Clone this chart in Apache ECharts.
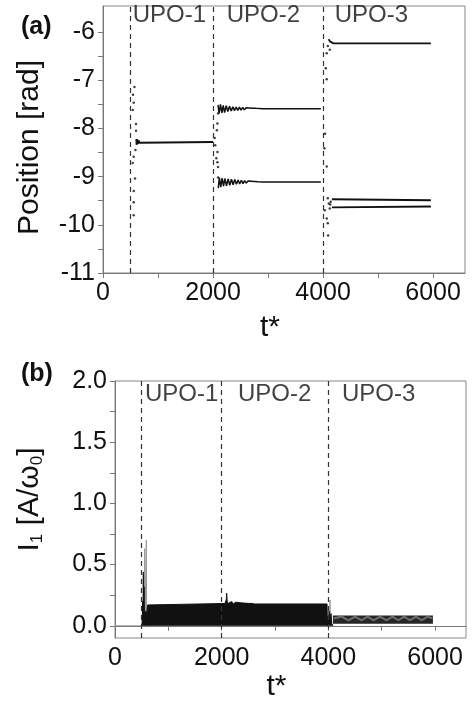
<!DOCTYPE html>
<html>
<head>
<meta charset="utf-8">
<script src="https://cdn.jsdelivr.net/npm/echarts@6/dist/echarts.min.js"></script>
<style>
  html, body { margin: 0; padding: 0; background: #fff; }
  #chart { width: 473px; height: 704px; }
</style>
</head>
<body>
<div id="chart"></div>
<script>
  // tick values
  const tTicks = [0, 1000, 2000, 3000, 4000, 5000, 6000];
  const tLabels = [0, 2000, 4000, 6000];
  const posTicks = [-11, -10.5, -10, -9.5, -9, -8.5, -8, -7.5, -7, -6.5, -6];
  const posLabels = [-11, -10, -9, -8, -7, -6];
  const i1Ticks = [0, 0.25, 0.5, 0.75, 1, 1.25, 1.5, 1.75, 2];
  const i1Labels = [0, 0.5, 1, 1.5, 2];

  const upoNames = ['UPO-1', 'UPO-2', 'UPO-3'];
  const dividers = [495, 2000, 3995];

  // (a) position, rad
  const posUpo1 = [[607, -8.22], [612, -8.34], [621, -8.23], [632, -8.32], [646, -8.25], [662, -8.30], [690, -8.28], [2000, -8.28]];
  const posUpo2a = [[2090, -7.51], [2110, -7.69], [2135, -7.50], [2160, -7.68], [2185, -7.52], [2210, -7.67], [2240, -7.53],
    [2270, -7.65], [2300, -7.54], [2330, -7.64], [2360, -7.55], [2390, -7.63], [2420, -7.555], [2450, -7.625], [2480, -7.56],
    [2510, -7.62], [2540, -7.565], [2570, -7.615], [2600, -7.57], [2630, -7.61], [2660, -7.575], [2690, -7.605],
    [2720, -7.58], [2750, -7.60], [2780, -7.584], [2810, -7.597], [2840, -7.587], [2870, -7.594], [2900, -7.59], [3960, -7.59]];
  const posUpo2b = [[2095, -9.24], [2115, -9.02], [2140, -9.22], [2165, -9.03], [2190, -9.20], [2215, -9.04], [2245, -9.19],
    [2275, -9.05], [2305, -9.18], [2335, -9.055], [2365, -9.17], [2395, -9.06], [2425, -9.16], [2455, -9.07], [2485, -9.15],
    [2515, -9.075], [2545, -9.145], [2575, -9.085], [2605, -9.135], [2635, -9.09], [2665, -9.13], [2695, -9.095],
    [2725, -9.125], [2755, -9.10], [2785, -9.12], [2815, -9.105], [2845, -9.115], [2900, -9.11], [3960, -9.11]];
  const posUpo3a = [[4100, -6.15], [4130, -6.20], [4190, -6.235], [5960, -6.235]];
  const posUpo3b = [[4160, -9.47], [4190, -9.49], [5960, -9.49]];
  const posUpo3c = [[4160, -9.64], [4190, -9.62], [5960, -9.62]];
  const posDots = [
    [571, -7.14], [558, -7.47], [540, -7.62], [600, -7.91], [600, -8.05], [558, -8.59], [540, -8.72], [582, -9.04],
    [558, -9.53], [558, -9.80], [545, -7.30], [590, -8.45], [560, -9.30],
    [2030, -8.20], [2040, -8.35], [2080, -7.90], [2091, -7.69], [2070, -8.04], [2080, -8.49], [2080, -8.70],
    [2091, -8.80], [2091, -9.02], [2060, -8.62],
    [4086, -6.29], [4067, -6.44], [4049, -6.75], [4067, -6.98], [4122, -6.37], [4036, -8.11], [4025, -8.41],
    [4067, -8.79], [4031, -9.70], [4067, -9.87], [4086, -9.97], [4091, -10.22], [4086, -9.45], [4104, -9.56],
    [4122, -9.66], [4140, -9.52], [4130, -9.58]
  ];

  // (b) I1, A/omega0
  const i1Zero = [[0, 0], [505, 0]];
  const i1Gray = [[550, 0], [556, 0.63], [562, 0.02], [581, 0.02], [587, 0.70], [593, 0.02], [4026, 0.02], [4031, 0.21], [4036, 0.02]];
  const i1Main = [[505, 0], [512, 0.06], [518, 0.20], [524, 0.04], [531, 0.44], [537, 0.06], [544, 0.32], [551, 0.07],
    [566, 0.12], [590, 0.09], [612, 0.17], [625, 0.182], [2060, 0.182], [2085, 0.21], [2094, 0.266], [2103, 0.20],
    [2120, 0.182], [2150, 0.18], [2188, 0.198], [2215, 0.178], [2263, 0.193], [2290, 0.178], [2344, 0.188], [2370, 0.178],
    [2425, 0.185], [2450, 0.178], [2500, 0.183], [2530, 0.178], [2582, 0.182], [2620, 0.178], [3975, 0.178],
    [3982, 0.0], [3992, 0.08], [4002, 0.02], [4014, 0.12], [4024, 0.03], [4040, 0.04], [4050, 0.10], [4062, 0.02], [4085, 0.0]];
  const i1Band = [[4085, 0.016], [5960, 0.084]];
  const i1Ripple = [[4100, 0.06], [4250, 0.075], [4375, 0.045], [4500, 0.075], [4625, 0.045], [4735, 0.075], [4844, 0.045],
    [4970, 0.075], [5094, 0.045], [5200, 0.075], [5313, 0.045], [5420, 0.075], [5531, 0.045], [5640, 0.075], [5750, 0.045],
    [5860, 0.075], [5950, 0.06]];

  const font = "'Liberation Sans', Arial, sans-serif";
  const axisGray = '#777';

  function tAxis(gridIndex, gap) {
    return {
      type: 'value', gridIndex: gridIndex, min: 0, max: 6580,
      name: 't*', nameLocation: 'middle', nameGap: gap,
      nameTextStyle: {fontSize: 30, color: '#111', fontFamily: font, padding: [0, 28, 0, 0]},
      axisLine: {lineStyle: {color: axisGray}},
      axisTick: {customValues: tTicks, length: 5, lineStyle: {color: axisGray}},
      axisLabel: {
        customValues: tLabels, fontSize: 25, color: '#111', fontFamily: font, margin: 8,
        formatter: function (v) { return String(v); }
      },
      splitLine: {show: false}
    };
  }

  function line(name, data, xi, color, width) {
    return {
      name: name, type: 'line', xAxisIndex: xi, yAxisIndex: xi, data: data,
      showSymbol: false, symbol: 'none', silent: true, animation: false,
      lineStyle: {color: color, width: width}
    };
  }

  function dividerLines() {
    return {
      symbol: 'none', silent: true, animation: false, label: {show: false},
      lineStyle: {type: [5, 4], color: '#333', width: 1.2},
      data: dividers.map(function (x) { return {xAxis: x}; })
    };
  }

  function upoLabels(xi, xs, y) {
    return {
      type: 'scatter', xAxisIndex: xi, yAxisIndex: xi, symbolSize: 0, silent: true, animation: false,
      data: upoNames.map(function (n, k) { return [xs[k], y, n]; }),
      label: {
        show: true, position: 'right', distance: 0, fontSize: 24, color: '#111', fontFamily: font,
        formatter: function (p) { return p.data[2]; }
      }
    };
  }

  let chart = echarts.init(document.getElementById('chart'));

  let zeroSeries = line('zero', i1Zero, 1, '#999', 1);
  zeroSeries.markLine = dividerLines();
  zeroSeries.z = 4;
  let upo1Series = line('upo1', posUpo1, 0, '#111', 2);
  upo1Series.markLine = dividerLines();

  let graySeries = line('gray', i1Gray, 1, '#999', 1);
  graySeries.areaStyle = {color: '#aaa', opacity: 1};
  graySeries.z = 1;
  let mainSeries = line('main', i1Main, 1, '#111', 1);
  mainSeries.areaStyle = {color: '#111', opacity: 1};
  mainSeries.z = 2;
  // post-4000 band as a rectangle in data coordinates
  mainSeries.markArea = {
    silent: true, animation: false,
    itemStyle: {color: '#262626', opacity: 1},
    data: [[{coord: i1Band[0]}, {coord: i1Band[1]}]]
  };
  let rippleSeries = line('ripple', i1Ripple, 1, '#6e6e6e', 2);
  rippleSeries.z = 3;

  chart.setOption({
    animation: false,
    backgroundColor: '#fff',
    title: [
      {text: '(a)', left: 16, top: 10, textStyle: {fontSize: 25, fontWeight: 'bold', color: '#111', fontFamily: font}},
      {text: '(b)', left: 16, top: 357, textStyle: {fontSize: 25, fontWeight: 'bold', color: '#111', fontFamily: font}}
    ],
    grid: [
      {left: 103, top: 6, right: 8, height: 267, show: true, borderColor: '#888', borderWidth: 1, backgroundColor: 'transparent'},
      {left: 115, top: 381, right: 7, height: 257, show: true, borderColor: '#888', borderWidth: 1, backgroundColor: 'transparent'}
    ],
    xAxis: [tAxis(0, 40), tAxis(1, 34)],
    yAxis: [
      {
        type: 'value', gridIndex: 0, min: -11, max: -5.46,
        name: 'Position [rad]', nameLocation: 'middle', nameGap: 58,
        nameTextStyle: {fontSize: 30, color: '#111', fontFamily: font, padding: [0, 16, 0, 0]},
        axisLine: {lineStyle: {color: axisGray}},
        axisTick: {customValues: posTicks, length: 5, lineStyle: {color: axisGray}},
        axisLabel: {customValues: posLabels, fontSize: 25, color: '#111', fontFamily: font, margin: 8},
        splitLine: {show: false}
      },
      {
        type: 'value', gridIndex: 1, min: -0.1, max: 2.0,
        name: '{i|I}{s|1}{i| [A/ω}{s|0}{i|]}', nameLocation: 'middle', nameGap: 68,
        nameTextStyle: {
          fontSize: 30, color: '#111', fontFamily: font, padding: [0, 0, 0, 20],
          rich: {
            i: {fontSize: 30, color: '#111', fontFamily: font, lineHeight: 34},
            s: {fontSize: 17, color: '#111', fontFamily: font, padding: [14, 0, 0, 0]}
          }
        },
        axisLine: {lineStyle: {color: axisGray}},
        axisTick: {customValues: i1Ticks, length: 5, lineStyle: {color: axisGray}},
        axisLabel: {
          customValues: i1Labels, fontSize: 25, color: '#111', fontFamily: font, margin: 8,
          formatter: function (v) { return v.toFixed(1); }
        },
        splitLine: {show: false}
      }
    ],
    series: [
      upo1Series,
      line('upo2a', posUpo2a, 0, '#111', 1.5),
      line('upo2b', posUpo2b, 0, '#111', 1.5),
      line('upo3a', posUpo3a, 0, '#111', 1.8),
      line('upo3b', posUpo3b, 0, '#111', 1.8),
      line('upo3c', posUpo3c, 0, '#111', 1.8),
      {
        type: 'scatter', xAxisIndex: 0, yAxisIndex: 0, data: posDots, symbolSize: 2.5,
        itemStyle: {color: '#111'}, silent: true, animation: false
      },
      upoLabels(0, [540, 2250, 4213], -5.65),
      zeroSeries,
      graySeries,
      mainSeries,
      rippleSeries,
      upoLabels(1, [563, 2306, 4256], 1.89)
    ]
  });
</script>
</body>
</html>
